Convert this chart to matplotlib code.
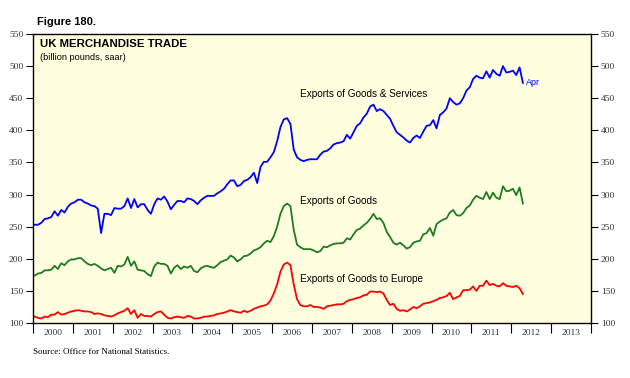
import numpy as np
import matplotlib
matplotlib.use("Agg")
import matplotlib.pyplot as plt
from matplotlib.ticker import FixedLocator

# Monthly data, Jan 2000 .. Apr 2012 (billion pounds, saar)
start_year = 2000
goods_services = [
    253, 253, 256, 262, 263, 265, 274, 267, 276, 272, 281, 286,
    288, 292, 292, 288, 286, 283, 282, 278, 240, 270, 270, 268,
    279, 278, 278, 282, 294, 279, 293, 280, 285, 285, 276, 270,
    285, 294, 292, 297, 289, 277, 284, 290, 290, 288, 294, 293,
    290, 285, 291, 295, 298, 298, 298, 302, 305, 309, 316, 322,
    322, 313, 315, 321, 323, 327, 334, 318, 343, 351, 351, 358,
    366, 383, 405, 417, 419, 410, 370, 358, 354, 352, 354, 355,
    355, 355, 362, 367, 368, 372, 378, 380, 381, 383, 393, 387,
    397, 407, 411, 420, 426, 437, 440, 430, 433, 430, 424, 418,
    407, 397, 393, 389, 384, 381, 388, 392, 388, 398, 407, 408,
    416, 403, 424, 428, 434, 450, 444, 440, 442, 450, 462, 467,
    480, 485, 482, 481, 492, 482, 494, 488, 485, 500, 490, 491,
    493, 486, 498, 474,
]
goods = [
    174, 177, 178, 182, 182, 183, 189, 184, 193, 190, 196, 199,
    199, 201, 201, 196, 192, 190, 192, 189, 185, 182, 184, 186,
    178, 189, 188, 191, 203, 189, 196, 183, 182, 181, 176, 173,
    188, 194, 192, 192, 189, 177, 186, 190, 184, 188, 186, 189,
    181, 179, 185, 188, 189, 187, 186, 190, 195, 197, 199, 205,
    202, 196, 199, 204, 205, 208, 213, 215, 218, 224, 228, 226,
    235, 250, 270, 282, 286, 282, 245, 222, 218, 215, 215, 215,
    213, 210, 212, 219, 218, 221, 223, 224, 224, 225, 232, 230,
    238, 245, 247, 252, 256, 262, 270, 262, 263, 256, 242, 234,
    225, 222, 225, 221, 216, 218, 225, 227, 228, 238, 240, 248,
    236, 254, 258, 261, 263, 272, 276, 268, 267, 271, 279, 283,
    292, 298, 295, 293, 304, 293, 303, 295, 293, 313, 305, 306,
    309, 299, 311, 286,
]
goods_europe = [
    110, 108, 107, 110, 109, 113, 113, 117, 113, 114, 116, 118,
    119, 120, 119, 118, 118, 117, 114, 115, 114, 112, 111, 110,
    112, 115, 117, 119, 123, 114, 120, 108, 114, 111, 111, 110,
    114, 117, 118, 113, 108, 107, 109, 110, 109, 108, 111, 110,
    107, 107, 108, 110, 110, 111, 112, 114, 115, 116, 118, 120,
    118, 117, 116, 119, 117, 119, 122, 124, 126, 127, 129, 135,
    146, 160, 180, 191, 194, 190, 160, 137, 128, 126, 126, 128,
    125, 125, 124, 122, 126, 127, 128, 129, 129, 130, 134, 136,
    137, 139, 140, 143, 144, 149, 149, 148, 149, 146, 136, 128,
    130, 122, 119, 120, 118, 121, 125, 123, 126, 130, 131, 132,
    134, 136, 139, 140, 142, 147, 137, 140, 142, 151, 151, 152,
    157, 150, 158, 158, 166, 159, 161, 158, 157, 162, 158, 157,
    156, 158, 154, 145,
]
year_labels = [str(y) for y in range(2000, 2014)]
y_ticks = [100, 150, 200, 250, 300, 350, 400, 450, 500, 550]

series_labels = ["Exports of Goods & Services", "Exports of Goods",
                 "Exports of Goods to Europe"]
last_label = "Apr"

n = len(goods_services)
t = start_year + (np.arange(n) + 0.5) / 12.0

fig = plt.figure(figsize=(6.3, 3.78), dpi=100)
ax = fig.add_axes([33 / 630, 1 - 323 / 378, (591 - 33) / 630, (323 - 34) / 378])
ax.set_facecolor("#FFFFE0")

ax.plot(t, goods_services, color="#0000FF", lw=1.3)
ax.plot(t, goods, color="#1E7B1E", lw=1.3)
ax.plot(t, goods_europe, color="#FF0000", lw=1.3)

ax.set_xlim(2000, 2014)
ax.set_ylim(100, 550)

serif = "Liberation Serif"
sans = "Liberation Sans"

# y axes on both sides
ax.set_yticks(y_ticks)
ax.tick_params(axis="y", which="major", direction="out", length=5, width=0.8,
               left=True, right=True, labelleft=True, labelright=True,
               labelsize=6.8, pad=2, colors="black")
for lab in ax.get_yticklabels():
    lab.set_fontfamily(serif)
    lab.set_color("#333333")

# x axis: year boundary ticks (minor) and centered labels (major)
ax.xaxis.set_minor_locator(FixedLocator(np.arange(2000, 2015)))
ax.xaxis.set_major_locator(FixedLocator(np.arange(2000, 2014) + 0.5))
ax.set_xticklabels(year_labels, fontfamily=serif, fontsize=6.8, color="#333333")
ax.tick_params(axis="x", which="major", length=0, pad=4)
ax.tick_params(axis="x", which="minor", direction="out", length=7, width=0.8)

for s in ax.spines.values():
    s.set_linewidth(1.0)
    s.set_color("black")

# annotations
ax.text(2000.18, 535, "UK MERCHANDISE TRADE", fontfamily=sans, fontweight="bold",
        fontsize=8.2, va="center", ha="left")
ax.text(2000.18, 514, "(billion pounds, saar)", fontfamily=sans,
        fontsize=6.6, va="center", ha="left")
ax.text(2006.7, 456, series_labels[0], fontfamily=sans, fontsize=7.2,
        va="center", ha="left")
ax.text(2006.7, 290, series_labels[1], fontfamily=sans, fontsize=7.2,
        va="center", ha="left")
ax.text(2006.7, 168, series_labels[2], fontfamily=sans, fontsize=7.2,
        va="center", ha="left")
ax.text(t[-1] + 0.08, goods_services[-1], last_label, fontfamily=sans,
        fontsize=6.5, color="#0000FF", va="center", ha="left")

fig.text(37 / 630, 1 - 22 / 378, "Figure 180.", fontfamily=sans, fontweight="bold",
         fontsize=8, va="center", ha="left")
fig.text(33 / 630, 1 - 352 / 378, "Source: Office for National Statistics.",
         fontfamily=serif, fontsize=6.5, va="center", ha="left")

fig.savefig("out.png", dpi=100)
